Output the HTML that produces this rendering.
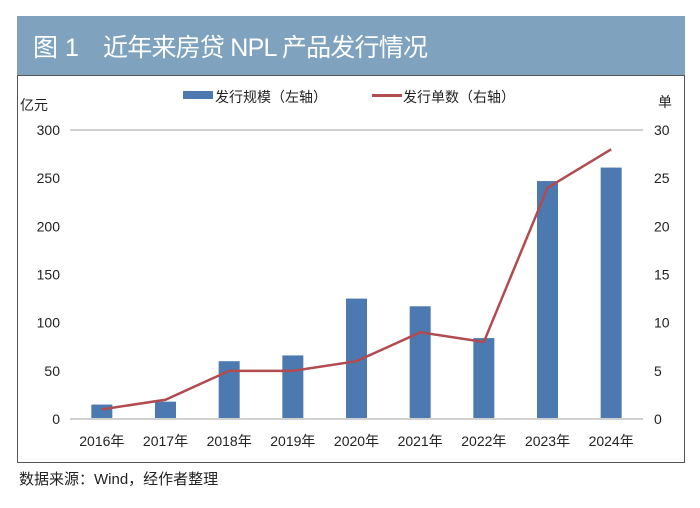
<!DOCTYPE html>
<html><head><meta charset="utf-8"><style>
body{margin:0;width:700px;height:503px;background:#fff;font-family:"Liberation Sans","Noto Sans CJK SC",sans-serif;overflow:hidden}
</style></head><body>
<svg width="700" height="503">
<rect x="17" y="16" width="668" height="59" fill="#7fa3bf"/>
<text x="33" y="56" font-size="25" fill="#fff">图 1</text>
<text x="103" y="56" font-size="25" fill="#fff" textLength="325">近年来房贷 NPL 产品发行情况</text>
<rect x="17.5" y="75.5" width="667" height="387" fill="none" stroke="#555"/>
<text x="20" y="110" font-size="14" fill="#222">亿元</text>
<text x="658" y="107" font-size="14" fill="#222">单</text>
<rect x="183" y="91" width="30" height="8" fill="#4b79b0"/>
<text x="215" y="102" font-size="14" fill="#222">发行规模（左轴）</text>
<rect x="372" y="94" width="30" height="3" fill="#b24b50"/>
<text x="403" y="102" font-size="14" fill="#222">发行单数（右轴）</text>
<g id="plot"></g>
<text x="19" y="484" font-size="15" fill="#222">数据来源：Wind，经作者整理</text>
</svg>
<script>
const categories=["2016年","2017年","2018年","2019年","2020年","2021年","2022年","2023年","2024年"];
const volume=[15,18,60,66,125,117,84,247,261];
const counts=[1,2,5,5,6,9,8,24,28];
const leftTicks=[0,50,100,150,200,250,300];
const rightTicks=[0,5,10,15,20,25,30];
const NS="http://www.w3.org/2000/svg";
const g=document.getElementById('plot');
const x0=70,x1=643,yTop=130,yBot=419;
const bw=(x1-x0)/categories.length;
const xc=i=>x0+bw*(i+0.5);
const yl=v=>yBot-(v/300)*(yBot-yTop);
const yr=v=>yBot-(v/30)*(yBot-yTop);
function mk(t,a){const e=document.createElementNS(NS,t);for(const k in a)e.setAttribute(k,a[k]);g.appendChild(e);return e;}
let gl=mk('line',{x1:x0,x2:x1,y1:yl(300),y2:yl(300),stroke:'#d0d0d0','stroke-width':2});


leftTicks.forEach(v=>{const t=mk('text',{x:60,y:yl(v)+5,'font-size':14,fill:'#222','text-anchor':'end'});t.textContent=v;

});
rightTicks.forEach(v=>{const t=mk('text',{x:654,y:yr(v)+5,'font-size':14,fill:'#222'});t.textContent=v;

});
volume.forEach((v,i)=>{const r=mk('rect',{x:xc(i)-10.5,y:yl(v),width:21,height:yBot-yl(v),fill:'#4b79b0'});

});
const ax=mk('line',{x1:x0,x2:x1,y1:yBot,y2:yBot,stroke:'#d0d0d0','stroke-width':2});


const p=mk('polyline',{points:counts.map((v,i)=>xc(i)+','+yr(v)).join(' '),fill:'none',stroke:'#b24b50','stroke-width':2.5});


categories.forEach((c,i)=>{const t=mk('text',{x:xc(i),y:446,'font-size':14,fill:'#222','text-anchor':'middle'});t.textContent=c;

});
</script>
</body></html>
